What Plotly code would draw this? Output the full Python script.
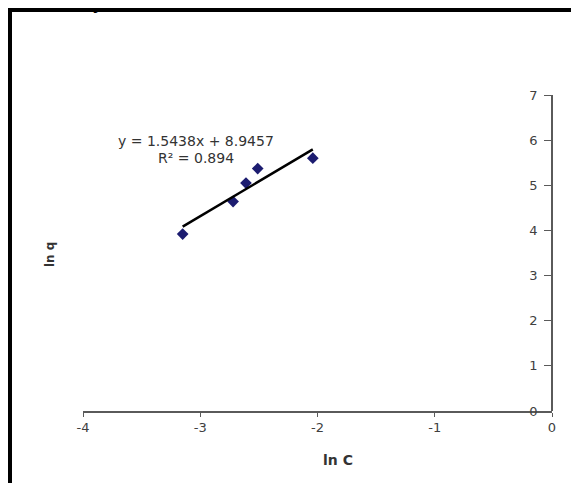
import plotly.graph_objects as go

# Data
ln_c = [-3.15, -2.72, -2.61, -2.51, -2.04]
ln_q = [3.92, 4.64, 5.05, 5.37, 5.60]
slope = 1.5438
intercept = 8.9457
r2 = 0.894
x_ticks = [-4, -3, -2, -1, 0]
y_ticks = [0, 1, 2, 3, 4, 5, 6, 7]

OFF = 8  # page body margin
W, H = 579 - OFF, 483 - OFF
L, T = 83 - OFF, 95 - OFF
R = W - (552 - OFF)
B = H - (411 - OFF)
pw, ph = W - L - R, H - T - B


def px_x(p):  # window pixel -> paper x
    return (p - OFF - L) / pw


def px_y(p):  # window pixel -> paper y
    return (H - B - (p - OFF)) / ph


fig = go.Figure()

fig.add_trace(go.Scatter(
    x=ln_c, y=ln_q, mode="markers",
    marker=dict(symbol="diamond", size=9, color="#1c1c70"),
    showlegend=False, hoverinfo="skip"))

x0, x1 = min(ln_c), max(ln_c)
fig.add_trace(go.Scatter(
    x=[x0, x1], y=[slope * x0 + intercept, slope * x1 + intercept],
    mode="lines", line=dict(color="black", width=2.5),
    showlegend=False, hoverinfo="skip"))

SANS = "DejaVu Sans, Arial, sans-serif"
axis_font = dict(family=SANS, size=13, color="#404040")

fig.update_layout(
    width=W, height=H,
    margin=dict(l=L, r=R, t=T, b=B, pad=0),
    paper_bgcolor="white", plot_bgcolor="white",
    xaxis=dict(range=[-4, 0], tickvals=x_ticks, ticktext=[str(v) for v in x_ticks],
               showline=True, linecolor="#5a5a5a", linewidth=1.5,
               ticks="outside", ticklen=4, tickcolor="#5a5a5a", tickwidth=1.3,
               showgrid=False, zeroline=False, tickfont=axis_font),
    yaxis=dict(range=[0, 7], tickvals=y_ticks, ticktext=[str(v) for v in y_ticks],
               anchor="free", position=1, side="left",
               showline=True, linecolor="#5a5a5a", linewidth=1.5,
               ticks="outside", ticklen=7, tickcolor="#5a5a5a", tickwidth=1.3,
               ticklabelstandoff=4,
               showgrid=False, zeroline=False, tickfont=axis_font),
    shapes=[
        dict(type="line", xref="paper", yref="paper",
             x0=px_x(7), x1=px_x(590), y0=px_y(9.5), y1=px_y(9.5),
             line=dict(color="black", width=5)),
        dict(type="line", xref="paper", yref="paper",
             x0=px_x(9.5), x1=px_x(9.5), y0=px_y(7), y1=px_y(495),
             line=dict(color="black", width=5)),
    ],
    annotations=[
        dict(text="<b>ln C</b>", xref="paper", yref="paper",
             x=px_x(338), y=px_y(460), xanchor="center", yanchor="middle", showarrow=False,
             font=dict(family=SANS, size=14, color="#333333")),
        dict(text="<b>ln q</b>", xref="paper", yref="paper",
             x=px_x(50), y=px_y(255), xanchor="center", yanchor="middle",
             showarrow=False, textangle=-90,
             font=dict(family=SANS, size=12, color="#333333")),
        dict(text=f"y = {slope}x + {intercept}", xref="paper", yref="paper",
             x=px_x(196), y=px_y(141), xanchor="center", yanchor="middle", showarrow=False,
             font=dict(family=SANS, size=14, color="#333333")),
        dict(text=f"R² = {r2}", xref="paper", yref="paper",
             x=px_x(196), y=px_y(158), xanchor="center", yanchor="middle", showarrow=False,
             font=dict(family=SANS, size=14, color="#333333")),
        dict(text="<b>sorbent systems.</b>", xref="paper", yref="paper",
             x=px_x(8), y=px_y(3), xanchor="left", yanchor="middle", showarrow=False,
             font=dict(family="DejaVu Serif, Liberation Serif, serif", size=16, color="black")),
    ],
)

fig.write_html("out.html")
